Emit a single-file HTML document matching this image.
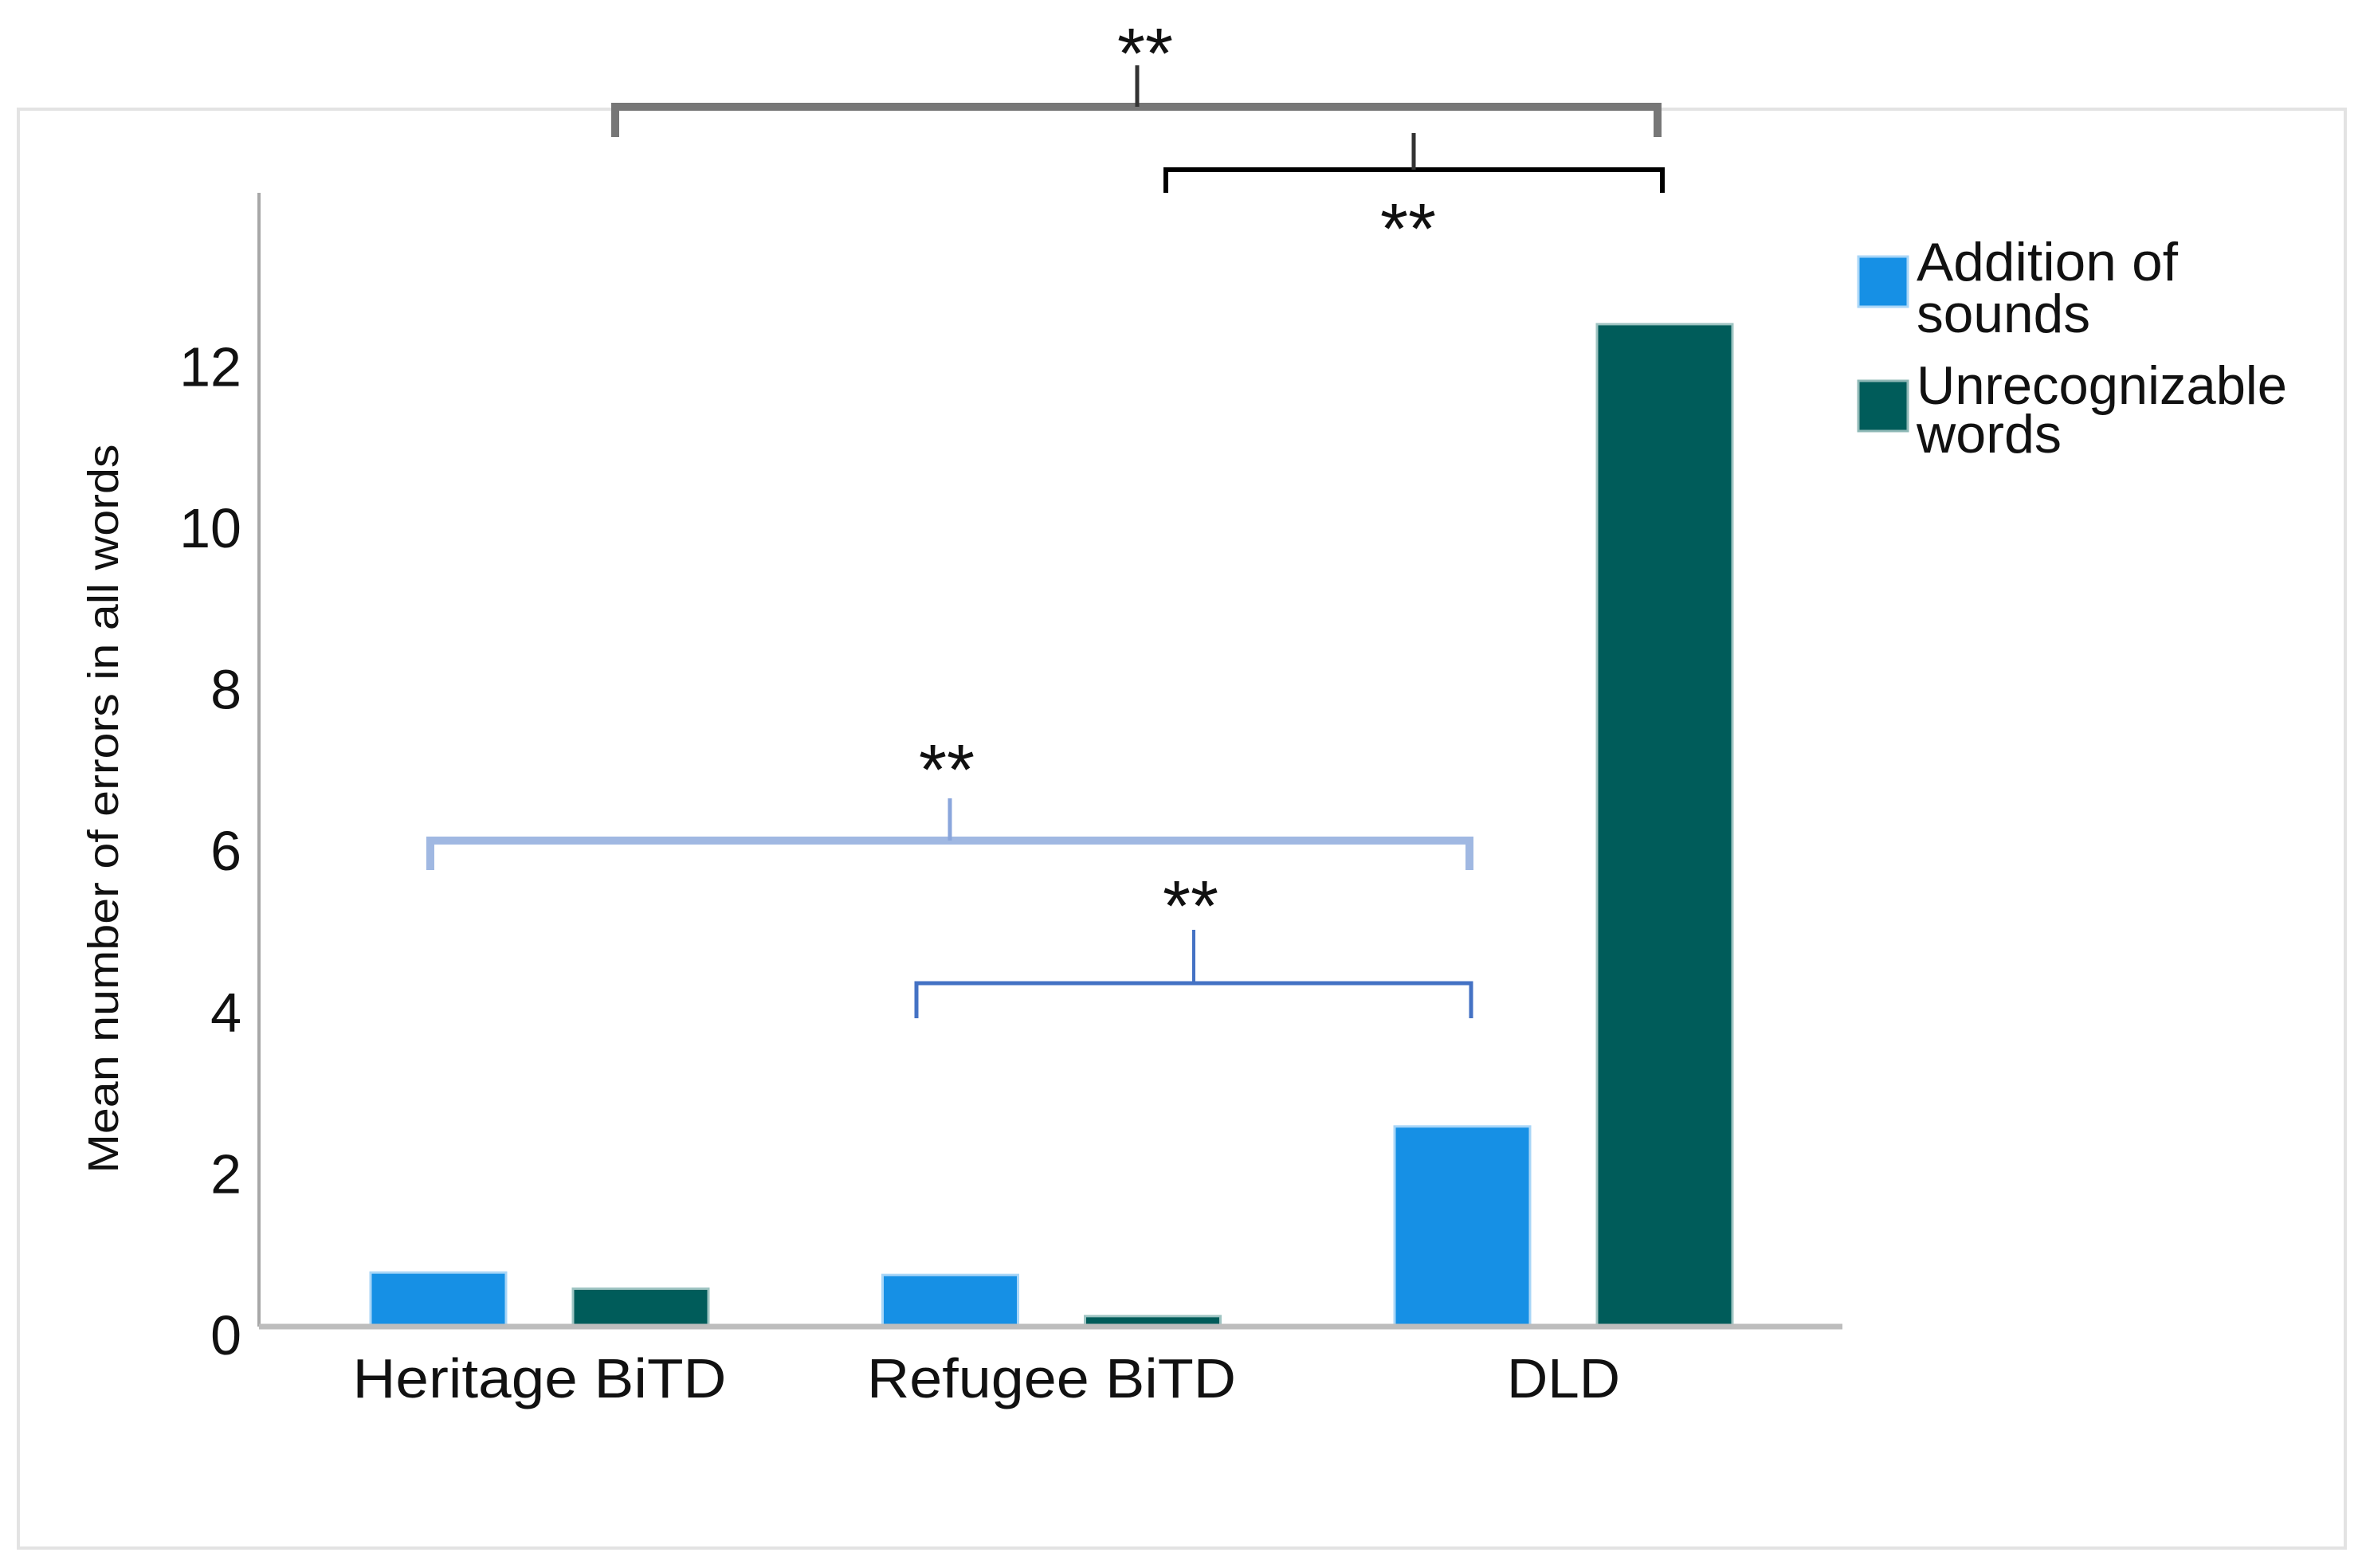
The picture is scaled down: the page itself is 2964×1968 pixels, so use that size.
<!DOCTYPE html>
<html><head><meta charset="utf-8"><style>
html,body{margin:0;padding:0;background:#fff;}
svg{display:block;font-family:"Liberation Sans",Arial,sans-serif;}
</style></head><body>
<svg id="chart" width="2964" height="1968" viewBox="0 0 2964 1968">
<rect x="23" y="137" width="2920" height="1806" fill="none" stroke="#e3e3e3" stroke-width="4"/>
<g id="bars"></g>
<line x1="325" y1="242" x2="325" y2="1665" stroke="#a8a8a8" stroke-width="4"/>
<line x1="325" y1="1665" x2="2312" y2="1665" stroke="#bdbdbd" stroke-width="7"/>
<g id="yticks"></g>
<g id="xlabels"></g>
<text transform="translate(148,1015) rotate(-90)" text-anchor="middle" font-size="54" textLength="915" lengthAdjust="spacingAndGlyphs" fill="#111">Mean number of errors in all words</text>

<g>
<g>
<rect x="2332" y="322" width="62" height="63" fill="#1690e5" stroke="#a9d6f7" stroke-width="3"/>
<text x="2405" y="352" font-size="68" textLength="328" lengthAdjust="spacingAndGlyphs" fill="#111">Addition of</text>
<text x="2405" y="417" font-size="68" textLength="218" lengthAdjust="spacingAndGlyphs" fill="#111">sounds</text>
</g>
<g>
<rect x="2332" y="478" width="62" height="63" fill="#005c5a" stroke="#8fb8b6" stroke-width="3"/>
<text x="2405" y="507" font-size="68" textLength="465" lengthAdjust="spacingAndGlyphs" fill="#111">Unrecognizable</text>
<text x="2405" y="568" font-size="68" textLength="182" lengthAdjust="spacingAndGlyphs" fill="#111">words</text>
</g>
</g>

<g fill="none">
<path d="M772,172 L772,134 L2080,134 L2080,172" stroke="#777" stroke-width="10"/>
<line x1="1427" y1="82" x2="1427" y2="134" stroke="#333" stroke-width="5"/>
<text x="1437" y="98" text-anchor="middle" font-size="90" fill="#111">**</text>
</g>
<g fill="none">
<path d="M1463,242 L1463,213 L2086,213 L2086,242" stroke="#000" stroke-width="6"/>
<line x1="1774" y1="167" x2="1774" y2="213" stroke="#333" stroke-width="5"/>
<text x="1767" y="318" text-anchor="middle" font-size="90" fill="#111">**</text>
</g>
<g fill="none">
<path d="M540,1092 L540,1055 L1844,1055 L1844,1092" stroke="#a0b8e2" stroke-width="10"/>
<line x1="1192" y1="1002" x2="1192" y2="1055" stroke="#8aa6dc" stroke-width="5"/>
<text x="1188" y="997" text-anchor="middle" font-size="90" fill="#111">**</text>
</g>
<g fill="none">
<path d="M1150,1278 L1150,1234 L1846,1234 L1846,1278" stroke="#4472c4" stroke-width="5"/>
<line x1="1498" y1="1167" x2="1498" y2="1234" stroke="#4472c4" stroke-width="4"/>
<text x="1494" y="1168" text-anchor="middle" font-size="90" fill="#111">**</text>
</g>
</svg>
<script>
const categories = ["Heritage BiTD", "Refugee BiTD", "DLD"];
const additionValues = [0.65, 0.62, 2.46];
const unrecognizableValues = [0.45, 0.11, 12.4];
const yTicks = [0, 2, 4, 6, 8, 10, 12];
const labelWidths = [469, 463, 142];

const NS = "http://www.w3.org/2000/svg";
const baseY = 1663, unitPx = 101.3;
const yScale = v => baseY - v * unitPx;
const firstCenter = 677, catStep = 642.5;
const xCenter = i => firstCenter + i * catStep;
const barW = 170, offset = 127;

const barsG = document.getElementById('bars');
function addBar(cx, v, fill, edge, name) {
  const y = yScale(v);
  const r = document.createElementNS(NS, 'rect');
  r.setAttribute('x', cx - barW / 2);
  r.setAttribute('y', y);
  r.setAttribute('width', barW);
  r.setAttribute('height', baseY - y);
  r.setAttribute('fill', fill);
  r.setAttribute('stroke', edge);
  r.setAttribute('stroke-width', 3);
  
  
  barsG.appendChild(r);
}
categories.forEach((c, i) => {
  addBar(xCenter(i) - offset, additionValues[i], '#1690e5', '#a9d6f7', 'bar-addition-' + i);
  addBar(xCenter(i) + offset, unrecognizableValues[i], '#005c5a', '#9fc4c2', 'bar-unrecognizable-' + i);
  const t = document.createElementNS(NS, 'text');
  t.setAttribute('x', xCenter(i));
  t.setAttribute('y', 1754);
  t.setAttribute('text-anchor', 'middle');
  t.setAttribute('font-size', '70');
  t.setAttribute('textLength', labelWidths[i]);
  t.setAttribute('lengthAdjust', 'spacingAndGlyphs');
  t.setAttribute('fill', '#111');
  t.textContent = c;
  
  
  document.getElementById('xlabels').appendChild(t);
});
yTicks.forEach(v => {
  const t = document.createElementNS(NS, 'text');
  t.setAttribute('x', 303);
  t.setAttribute('y', yScale(v) + 37);
  t.setAttribute('text-anchor', 'end');
  t.setAttribute('font-size', '70');
  t.setAttribute('fill', '#111');
  t.textContent = v;
  
  
  document.getElementById('yticks').appendChild(t);
});
</script>
</body></html>
